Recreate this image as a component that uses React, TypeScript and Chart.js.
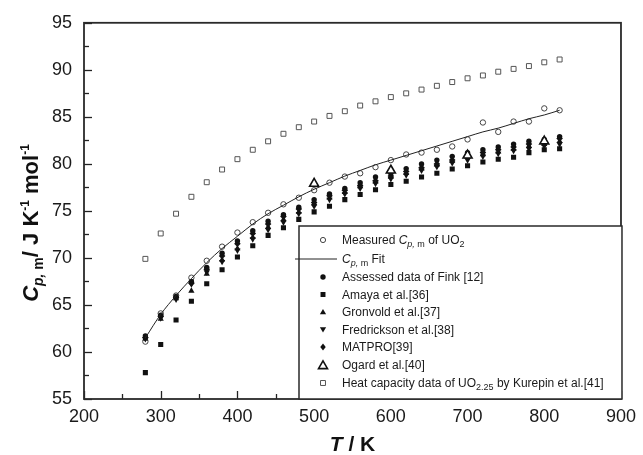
import React, { useEffect, useRef } from 'react';
import { Chart, registerables } from 'chart.js';

Chart.register(...registerables);

// ---------- data ----------
const temps = [280, 300, 320, 340, 360, 380, 400, 420, 440, 460, 480, 500, 520, 540, 560, 580, 600, 620, 640, 660, 680, 700, 720, 740, 760, 780, 800, 820];
const measured = [61.1, 64.1, 66.0, 67.9, 69.7, 71.2, 72.7, 73.8, 74.8, 75.7, 76.4, 77.2, 78.0, 78.65, 79.0, 79.65, 80.4, 81.0, 81.2, 81.5, 81.85, 82.6, 84.4, 83.4, 84.5, 84.5, 85.9, 85.7];
const fit = [61.5, 64.0, 66.0, 67.8, 69.5, 71.0, 72.3, 73.6, 74.7, 75.6, 76.5, 77.3, 78.0, 78.7, 79.3, 79.9, 80.4, 80.9, 81.4, 81.9, 82.4, 82.9, 83.4, 83.8, 84.3, 84.8, 85.2, 85.7];
const fink = [61.7, 63.9, 65.9, 67.5, 69.0, 70.5, 71.8, 72.9, 73.9, 74.6, 75.4, 76.2, 76.8, 77.4, 78.0, 78.6, 79.0, 79.5, 80.0, 80.4, 80.8, 81.2, 81.5, 81.8, 82.1, 82.4, 82.6, 82.9];
const amaya = [57.8, 60.8, 63.4, 65.4, 67.25, 68.75, 70.1, 71.3, 72.4, 73.2, 74.1, 74.9, 75.5, 76.2, 76.75, 77.25, 77.8, 78.15, 78.6, 79.0, 79.45, 79.8, 80.2, 80.5, 80.7, 81.2, 81.5, 81.6];
const gronvold = [61.4, 63.5, 65.7, 66.5, 68.3, 69.8, 71.0, 72.2, 73.3, 74.1, 74.9, 75.8, 76.4, 77.0, 77.6, 78.1, 78.6, 79.0, 79.5, 79.9, 80.3, 80.7, 81.0, 81.3, 81.6, 81.9, 82.1, 82.4];
const fredrickson = [61.4, 63.6, 65.6, 67.2, 68.5, 69.6, 70.8, 72.0, 73.0, 73.8, 74.7, 75.5, 76.2, 76.8, 77.4, 77.9, 78.4, 78.8, 79.3, 79.7, 80.1, 80.4, 80.8, 81.1, 81.4, 81.6, 81.9, 82.1];
const matpro = [61.5, 63.8, 65.8, 67.3, 68.8, 70.2, 71.5, 72.6, 73.6, 74.4, 75.2, 75.9, 76.6, 77.2, 77.7, 78.2, 78.7, 79.2, 79.6, 80.0, 80.4, 80.8, 81.2, 81.5, 81.8, 82.1, 82.4, 82.7];
const ogardT = [500, 600, 700, 800];
const ogard = [77.9, 79.3, 80.9, 82.4];
const kurepin = [69.9, 72.6, 74.7, 76.5, 78.05, 79.4, 80.5, 81.5, 82.4, 83.2, 83.9, 84.5, 85.1, 85.6, 86.2, 86.65, 87.1, 87.5, 87.9, 88.3, 88.7, 89.1, 89.4, 89.8, 90.1, 90.4, 90.8, 91.1];

const xMin = 200, xMax = 900, xStep = 50, xLabelStep = 100;
const yMin = 55, yMax = 95, yStep = 2.5, yLabelStep = 5;

const FONT = '"Liberation Sans", Arial, Helvetica, sans-serif';

const pts = (xs: number[], ys: number[]) => xs.map((x, i) => ({ x, y: ys[i] }));

type Part = { t: string; f: string; dy?: number };

function richWidth(ctx: CanvasRenderingContext2D, parts: Part[]) {
  let w = 0;
  for (const p of parts) {
    ctx.font = p.f;
    w += ctx.measureText(p.t).width;
  }
  return w;
}
function drawRich(ctx: CanvasRenderingContext2D, parts: Part[], x: number, y: number) {
  let cx = x;
  for (const p of parts) {
    ctx.font = p.f;
    ctx.fillText(p.t, cx, y + (p.dy || 0));
    cx += ctx.measureText(p.t).width;
  }
}

function shape(ctx: CanvasRenderingContext2D, kind: string, x: number, y: number, r: number, fill: string | null, stroke: string | null, lw: number) {
  ctx.beginPath();
  if (kind === 'circle') {
    ctx.arc(x, y, r, 0, Math.PI * 2);
  } else if (kind === 'rect') {
    const s = r * Math.SQRT1_2;
    ctx.rect(x - s, y - s, 2 * s, 2 * s);
  } else if (kind === 'tri' || kind === 'triDown') {
    const sgn = kind === 'tri' ? 1 : -1;
    for (let k = 0; k < 3; k++) {
      const a = (k * 2 * Math.PI) / 3;
      const px = x + Math.sin(a) * r;
      const py = y - sgn * Math.cos(a) * r;
      if (k === 0) ctx.moveTo(px, py);
      else ctx.lineTo(px, py);
    }
    ctx.closePath();
  } else if (kind === 'diamond') {
    ctx.moveTo(x, y - r);
    ctx.lineTo(x + r * 0.8, y);
    ctx.lineTo(x, y + r);
    ctx.lineTo(x - r * 0.8, y);
    ctx.closePath();
  }
  if (fill) {
    ctx.fillStyle = fill;
    ctx.fill();
  }
  if (stroke) {
    ctx.strokeStyle = stroke;
    ctx.lineWidth = lw;
    ctx.stroke();
  }
}

const decorPlugin = {
  id: 'decor',
  afterDraw(chart: any) {
    const ctx: CanvasRenderingContext2D = chart.ctx;
    const { left, right, top, bottom } = chart.chartArea;
    const xs = chart.scales.x;
    const ys = chart.scales.y;
    ctx.save();
    // ticks (inward)
    ctx.strokeStyle = '#222';
    ctx.lineWidth = 1.3;
    for (const t of xs.ticks) {
      const px = Math.round(xs.getPixelForValue(t.value)) + 0.5;
      const major = Math.abs(t.value % xLabelStep) < 1e-6;
      const len = major ? 8 : 5;
      ctx.beginPath();
      ctx.moveTo(px, bottom);
      ctx.lineTo(px, bottom - len);
      ctx.stroke();
    }
    for (const t of ys.ticks) {
      const py = Math.round(ys.getPixelForValue(t.value)) + 0.5;
      const major = Math.abs(t.value % yLabelStep) < 1e-6;
      const len = major ? 8 : 5;
      ctx.beginPath();
      ctx.moveTo(left, py);
      ctx.lineTo(left + len, py);
      ctx.stroke();
    }
    // frame
    ctx.strokeStyle = '#2a2a2a';
    ctx.lineWidth = 1.8;
    ctx.strokeRect(left, top, right - left, bottom - top);

    // legend box
    const lx0 = 299, ly0 = 226, lx1 = right + 1, ly1 = bottom;
    ctx.fillStyle = '#fff';
    ctx.fillRect(lx0, ly0, lx1 - lx0, ly1 - ly0);
    ctx.strokeStyle = '#2a2a2a';
    ctx.lineWidth = 1.5;
    ctx.strokeRect(lx0, ly0, lx1 - lx0, ly1 - ly0);

    const f = `12px ${FONT}`;
    const fi = `italic 12px ${FONT}`;
    const fs = `9px ${FONT}`;
    const fsi = `italic 9px ${FONT}`;
    const rows: { y: number; parts: Part[] }[] = [
      { y: 240, parts: [{ t: 'Measured ', f }, { t: 'C', f: fi }, { t: 'p,', f: fsi, dy: 3 }, { t: ' m', f: fs, dy: 3 }, { t: ' of UO', f }, { t: '2', f: fs, dy: 3 }] },
      { y: 258.5, parts: [{ t: 'C', f: fi }, { t: 'p,', f: fsi, dy: 3 }, { t: ' m', f: fs, dy: 3 }, { t: ' Fit', f }] },
      { y: 277, parts: [{ t: 'Assessed data of Fink [12]', f }] },
      { y: 294.5, parts: [{ t: 'Amaya et al.[36]', f }] },
      { y: 312, parts: [{ t: 'Gronvold et al.[37]', f }] },
      { y: 329.5, parts: [{ t: 'Fredrickson et al.[38]', f }] },
      { y: 347, parts: [{ t: 'MATPRO[39]', f }] },
      { y: 365, parts: [{ t: 'Ogard et al.[40]', f }] },
      { y: 383, parts: [{ t: 'Heat capacity data of UO', f }, { t: '2.25', f: fs, dy: 3 }, { t: ' by Kurepin et al.[41]', f }] },
    ];
    ctx.textBaseline = 'alphabetic';
    ctx.textAlign = 'left';
    ctx.fillStyle = '#1a1a1a';
    rows.forEach((r) => {
      ctx.fillStyle = '#1a1a1a';
      drawRich(ctx, r.parts, 342, r.y + 4.3);
    });
    const mx = 323;
    shape(ctx, 'circle', mx, rows[0].y, 2.6, '#fff', '#444', 1);
    ctx.strokeStyle = '#222';
    ctx.lineWidth = 1;
    ctx.beginPath();
    ctx.moveTo(295, rows[1].y + 0.5);
    ctx.lineTo(337, rows[1].y + 0.5);
    ctx.stroke();
    shape(ctx, 'circle', mx, rows[2].y, 2.7, '#111', null, 1);
    shape(ctx, 'rect', mx, rows[3].y, 3.5, '#111', null, 1);
    shape(ctx, 'tri', mx, rows[4].y + 0.5, 3.6, '#111', null, 1);
    shape(ctx, 'triDown', mx, rows[5].y - 0.5, 3.6, '#111', null, 1);
    shape(ctx, 'diamond', mx, rows[6].y, 3.4, '#111', null, 1);
    shape(ctx, 'tri', mx, rows[7].y + 1, 5.2, '#fff', '#111', 1.6);
    shape(ctx, 'rect', mx, rows[8].y, 3.5, '#fff', '#555', 1);

    // axis titles
    const tf = `bold 21px ${FONT}`;
    const tfi = `bold italic 21px ${FONT}`;
    const xParts: Part[] = [{ t: 'T', f: tfi }, { t: ' / K', f: tf }];
    ctx.fillStyle = '#111';
    const xw = richWidth(ctx, xParts);
    drawRich(ctx, xParts, (left + right) / 2 - xw / 2, 451);

    const sub = `bold 14px ${FONT}`;
    const subi = `bold italic 14px ${FONT}`;
    const sup = `bold 12px ${FONT}`;
    const yParts: Part[] = [
      { t: 'C', f: `bold italic 22px ${FONT}` },
      { t: 'p,', f: subi, dy: 5 },
      { t: ' m', f: sub, dy: 5 },
      { t: '/ J K', f: `bold 22px ${FONT}` },
      { t: '-1', f: sup, dy: -9 },
      { t: ' mol', f: `bold 22px ${FONT}` },
      { t: '-1', f: sup, dy: -9 },
    ];
    ctx.translate(30, 223);
    ctx.rotate(-Math.PI / 2);
    const yw = richWidth(ctx, yParts);
    drawRich(ctx, yParts, -yw / 2, 8);
    ctx.restore();
  },
};

export default function App() {
  const ref = useRef<HTMLCanvasElement | null>(null);
  useEffect(() => {
    if (!ref.current) return;
    const chart = new Chart(ref.current, {
      type: 'scatter',
      data: {
        datasets: [
          {
            label: 'Cp,m Fit',
            data: pts(temps, fit),
            showLine: true,
            borderColor: '#222',
            borderWidth: 1,
            pointRadius: 0,
            cubicInterpolationMode: 'monotone',
          } as any,
          {
            label: 'Ogard et al.[40]',
            data: pts(ogardT, ogard),
            pointStyle: 'triangle',
            pointRadius: 5.2,
            pointBackgroundColor: '#fff',
            pointBorderColor: '#111',
            pointBorderWidth: 1.6,
          },
          {
            label: 'Assessed data of Fink [12]',
            data: pts(temps, fink),
            pointStyle: 'circle',
            pointRadius: 2.7,
            pointBackgroundColor: '#111',
            pointBorderColor: '#111',
            pointBorderWidth: 0,
          },
          {
            label: 'MATPRO[39]',
            data: pts(temps, matpro),
            pointStyle: 'rectRot',
            pointRadius: 3.3,
            pointBackgroundColor: '#111',
            pointBorderColor: '#111',
            pointBorderWidth: 0,
          },
          {
            label: 'Gronvold et al.[37]',
            data: pts(temps, gronvold),
            pointStyle: 'triangle',
            pointRadius: 3.6,
            pointBackgroundColor: '#111',
            pointBorderColor: '#111',
            pointBorderWidth: 0,
          },
          {
            label: 'Fredrickson et al.[38]',
            data: pts(temps, fredrickson),
            pointStyle: 'triangle',
            pointRotation: 180,
            pointRadius: 3.6,
            pointBackgroundColor: '#111',
            pointBorderColor: '#111',
            pointBorderWidth: 0,
          },
          {
            label: 'Amaya et al.[36]',
            data: pts(temps, amaya),
            pointStyle: 'rect',
            pointRadius: 3.6,
            pointBackgroundColor: '#111',
            pointBorderColor: '#111',
            pointBorderWidth: 0,
          },
          {
            label: 'Measured Cp,m of UO2',
            data: pts(temps, measured),
            pointStyle: 'circle',
            pointRadius: 2.7,
            pointBackgroundColor: '#fff',
            pointBorderColor: '#444',
            pointBorderWidth: 1,
          },
          {
            label: 'Heat capacity data of UO2.25 by Kurepin et al.[41]',
            data: pts(temps, kurepin),
            pointStyle: 'rect',
            pointRadius: 3.5,
            pointBackgroundColor: '#fff',
            pointBorderColor: '#555',
            pointBorderWidth: 1,
          },
        ],
      },
      options: {
        animation: false,
        responsive: false,
        maintainAspectRatio: false,
        events: [],
        layout: { padding: { top: 19, right: 15, left: 0, bottom: 0 } },
        plugins: {
          legend: { display: false },
          tooltip: { enabled: false },
          title: { display: false },
        },
        scales: {
          x: {
            type: 'linear',
            min: xMin,
            max: xMax,
            grid: { display: false, drawTicks: false },
            border: { display: false },
            afterFit: (s: any) => {
              s.height = 56;
            },
            ticks: {
              stepSize: xStep,
              autoSkip: false,
              maxRotation: 0,
              padding: 7,
              color: '#1a1a1a',
              font: { family: FONT, size: 18 },
              callback: (v: any) => (Math.abs(Number(v) % xLabelStep) < 1e-6 ? String(v) : ''),
            },
          },
          y: {
            type: 'linear',
            min: yMin,
            max: yMax,
            grid: { display: false, drawTicks: false },
            border: { display: false },
            afterFit: (s: any) => {
              s.width = 84;
            },
            ticks: {
              stepSize: yStep,
              autoSkip: false,
              padding: 12,
              color: '#1a1a1a',
              font: { family: FONT, size: 18 },
              callback: (v: any) => (Math.abs(Number(v) % yLabelStep) < 1e-6 ? String(v) : ''),
            },
          },
        },
      },
      plugins: [decorPlugin],
    });
    return () => chart.destroy();
  }, []);
  return (
    <div style={{ position: 'absolute', left: 0, top: 0, width: 643, height: 455, background: '#fff' }}>
      <canvas ref={ref} width={643} height={455} style={{ display: 'block', width: 643, height: 455 }} />
    </div>
  );
}
